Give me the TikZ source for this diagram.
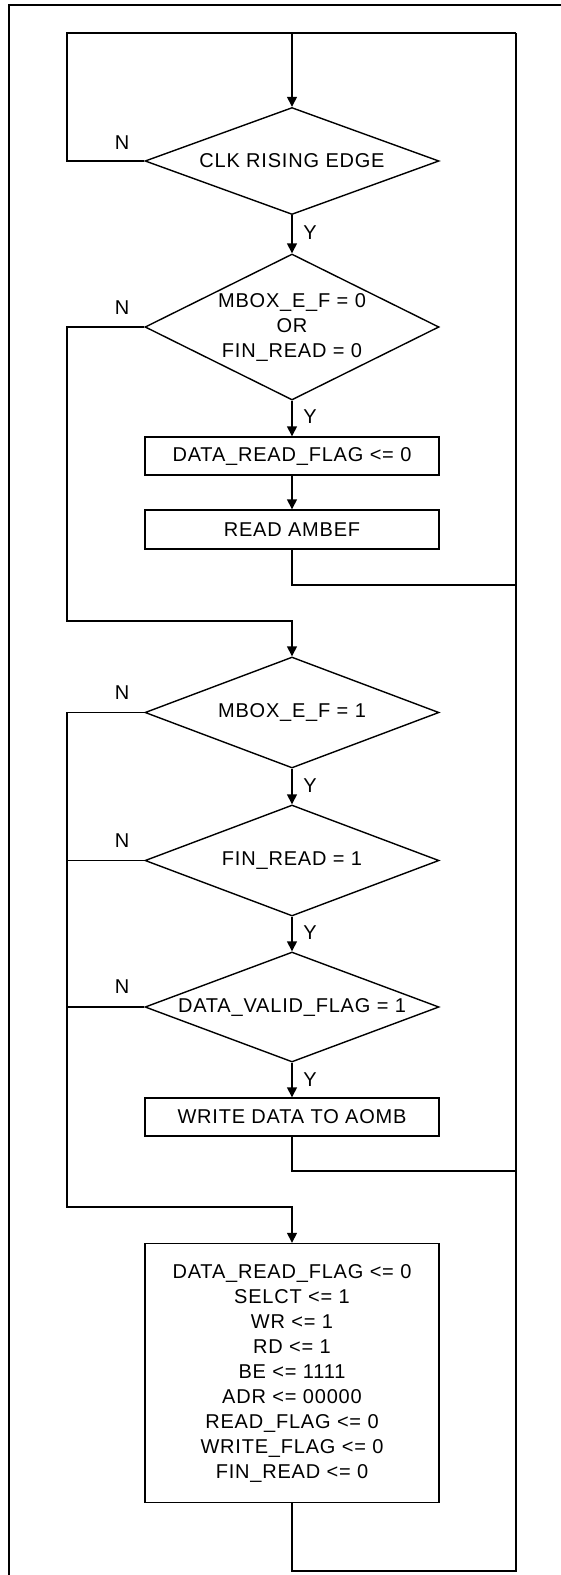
\documentclass[tikz,border=0pt]{standalone}
\usepackage{fontspec}
\newfontfamily\flowfont{Liberation Sans}[LetterSpace=4]
\usetikzlibrary{shapes.geometric,arrows.meta}
\tikzset{
  every node/.style={font=\flowfont\fontsize{20}{25}\selectfont},
  conn/.style={line width=1.4pt},
  arr/.style={conn,-{Triangle[width=10pt,length=10pt]}},
  decision/.style={diamond,draw,line width=1.4pt,inner sep=0pt,minimum width=294pt,align=center},
  procbox/.style={rectangle,draw,line width=1.4pt,inner sep=0pt,minimum width=294pt,align=center},
  lbl/.style={inner sep=0pt}
}
\begin{document}
\begin{tikzpicture}[x=1pt,y=-1pt]
\useasboundingbox (0,0) rectangle (560,1575);
% outer frame
\draw[line width=2pt] (9,1580) -- (9,5) -- (565,5);
% nodes
\node[decision,minimum height=107pt,shape aspect=2.6] (d1) at (292,161) {CLK RISING EDGE};
\node[decision,minimum height=146pt,shape aspect=2] (d2) at (292,327) {MBOX\_E\_F = 0\\OR\\FIN\_READ = 0};
\node[procbox,minimum height=38pt] (b1) at (292,456) {DATA\_READ\_FLAG <= 0};
\node[procbox,minimum height=39pt] (b2) at (292,529.5) {READ AMBEF};
\node[decision,minimum height=111pt,shape aspect=2.6] (d3) at (292,712.5) {MBOX\_E\_F = 1};
\node[decision,minimum height=111pt,shape aspect=2.6] (d4) at (292,860.5) {FIN\_READ = 1};
\node[decision,minimum height=110pt,shape aspect=2.6] (d5) at (292,1007) {DATA\_VALID\_FLAG = 1};
\node[procbox,minimum height=38pt] (b3) at (292,1117) {WRITE DATA TO AOMB};
\node[procbox,minimum height=259pt] (b4) at (292,1373) {DATA\_READ\_FLAG <= 0\\SELCT <= 1\\WR <= 1\\RD <= 1\\BE <= 1111\\ADR <= 00000\\READ\_FLAG <= 0\\WRITE\_FLAG <= 0\\FIN\_READ <= 0};
% labels
\node[lbl] (n1) at (122,143) {N};
\node[lbl] (n2) at (122,308) {N};
\node[lbl] (n3) at (122,693) {N};
\node[lbl] (n4) at (122,841) {N};
\node[lbl] (n5) at (122,987) {N};
\node[lbl] (y1) at (310,233) {Y};
\node[lbl] (y2) at (310,417) {Y};
\node[lbl] (y3) at (310,786) {Y};
\node[lbl] (y4) at (310,933) {Y};
\node[lbl] (y5) at (310,1080) {Y};
% coordinates
\coordinate (tl) at (67,33);
\coordinate (tm) at (292,33);
\coordinate (tr) at (516,33);
\coordinate (l1) at (67,621);
\coordinate (m1) at (292,621);
\coordinate (j1) at (516,585);
\coordinate (l2) at (67,1207);
\coordinate (m2) at (292,1207);
\coordinate (j2) at (516,1171);
\coordinate (br) at (516,1571);
% connectors
\draw[arr] (tm) -- (d1.north);
\draw[conn] (d1.west) -| (tl) -- (tr);
\draw[arr] (d1.south) -- (d2.north);
\draw[arr] (d2.west) -| (l1) -- (m1) -- (d3.north);
\draw[arr] (d2.south) -- (b1.north);
\draw[arr] (b1.south) -- (b2.north);
\draw[conn] (b2.south) |- (j1);
\draw[arr] (d3.south) -- (d4.north);
\draw[arr] (d4.south) -- (d5.north);
\draw[arr] (d5.south) -- (b3.north);
\draw[arr] (d3.west) -| (l2) -- (m2) -- (b4.north);
\draw[conn] (d4.west) -- (d4.west -| l2);
\draw[conn] (d5.west) -- (d5.west -| l2);
\draw[conn] (b3.south) |- (j2);
\draw[conn] (b4.south) |- (br) -- (tr);
\end{tikzpicture}
\end{document}
